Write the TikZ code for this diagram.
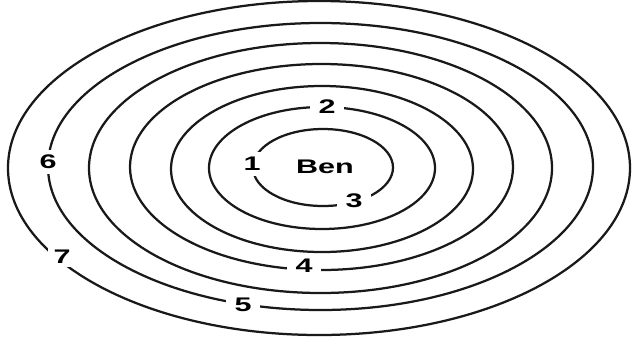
\documentclass[tikz,border=0pt]{standalone}
\usepackage{fontspec}
\setmainfont{Liberation Sans}

\tikzset{
    ring/.style={line width=1.6pt, black!90},
    ringlabel/.style={fill=white, xscale=1.55, font=\fontsize{14}{16}\selectfont\bfseries,
        inner xsep=3.8pt, inner ysep=0.6pt},
    sidelabel/.style={ringlabel, inner xsep=1pt, inner ysep=3.8pt},
    cornerlabel/.style={ringlabel, inner xsep=2.5pt, inner ysep=2.5pt},
}

\begin{document}
\begin{tikzpicture}[x=0.025cm, y=-0.025cm]

% === Fondo ===
\fill[white] (0,0) rectangle (632,345);
\useasboundingbox (0,0) rectangle (632,345);

% === Anillos (de dentro hacia fuera) ===
\foreach \cx/\cy/\rx/\ry in {
    323/167.5/70/38.5,
    322/168/113/61,
    322/169/151/83,
    321.5/167/191.5/103,
    320.5/168/231.5/125,
    320.5/166.5/272.5/143.5,
    319/168/311/167} {
    \draw[ring] (\cx,\cy) ellipse [x radius=\rx, y radius=\ry];
}

% === Etiquetas sobre los anillos ===
\foreach \n/\x/\y/\sty in {
    1/252/164/sidelabel,
    2/327/107/ringlabel,
    3/354/201/ringlabel,
    4/304/266/ringlabel,
    5/243/305/ringlabel,
    6/48/162/sidelabel,
    7/62/257/cornerlabel} {
    \node[\sty] (lab\n) at (\x,\y) {\n};
}

% Centro
\node[ringlabel, fill=none] (ben) at (325,167) {Ben};

\end{tikzpicture}
\end{document}
